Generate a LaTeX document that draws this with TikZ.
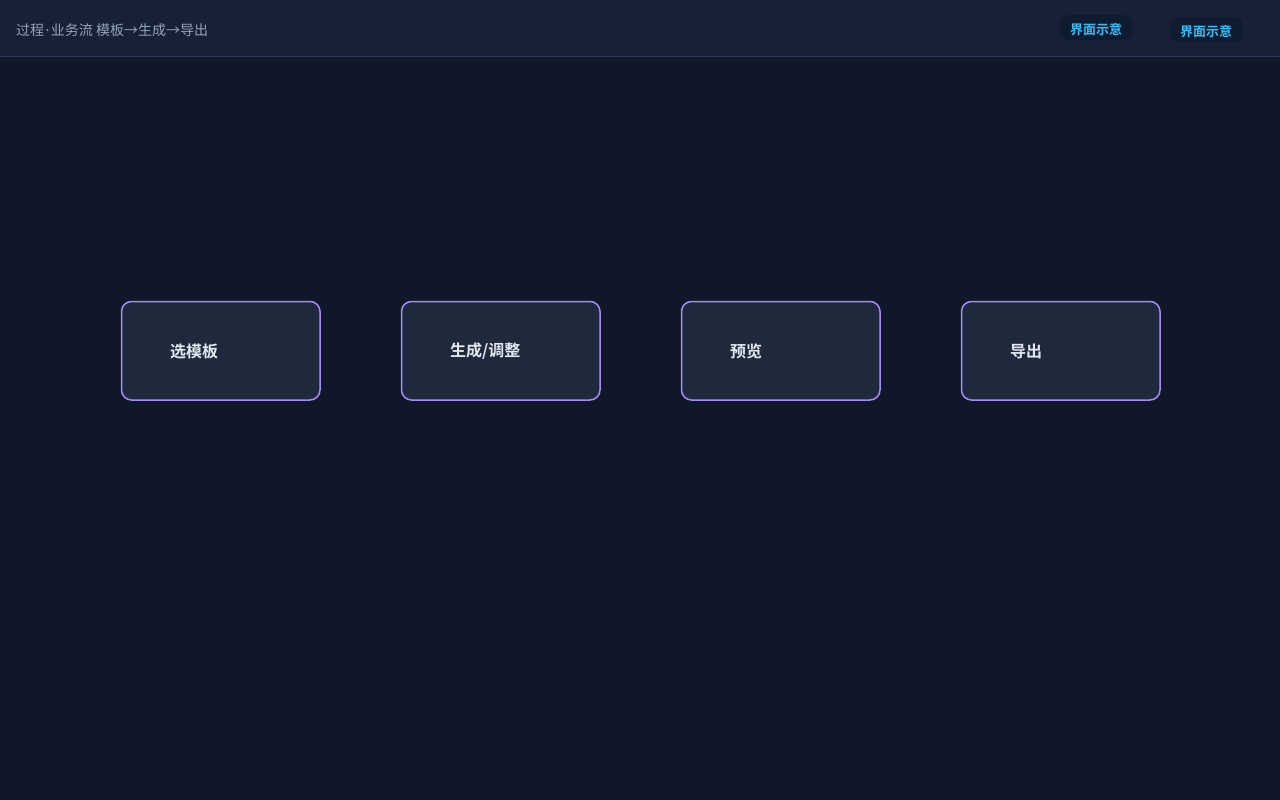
\documentclass[tikz,border=0pt]{standalone}
\usepackage{fontspec}
\setmainfont{Noto Sans CJK SC}
\newfontfamily\cjkb{Noto Sans CJK SC Bold}
\newfontfamily\latinf{Noto Sans}
\definecolor{bg}{HTML}{0F1729}
\definecolor{hdr}{HTML}{172036}
\definecolor{hdrline}{HTML}{2B3A55}
\definecolor{boxfill}{HTML}{1E293B}
\definecolor{boxline}{HTML}{A78BFA}
\definecolor{boxtext}{HTML}{E2E8F0}
\definecolor{titletext}{HTML}{94A3B8}
\definecolor{badgefill}{HTML}{0F1B2E}
\definecolor{badgetext}{HTML}{38BDF8}
\tikzset{
  stepbox/.style={draw=boxline, fill=boxfill, line width=1.5pt, rounded corners=10pt,
    minimum width=198.5pt, minimum height=98.5pt, inner sep=0pt, anchor=north west},
  steplabel/.style={anchor=west, text=boxtext, font=\cjkb\fontsize{16}{19}\selectfont, inner sep=0pt},
  badge/.style={fill=badgefill, rounded corners=8pt, minimum width=72pt, minimum height=25pt,
    inner sep=0pt, anchor=north west},
  badgetxt/.style={inner sep=0pt, text=badgetext, font=\cjkb\fontsize{13}{15}\selectfont},
}
\begin{document}
\begin{tikzpicture}[x=1pt,y=-1pt]
\useasboundingbox (0,0) rectangle (1280,800);
\fill[bg] (0,0) rectangle (1280,800);
\fill[hdr] (0,0) rectangle (1280,56);
\draw[hdrline, line width=1pt] (0,56.5) -- (1280,56.5);
\node[anchor=west, inner sep=0pt, text=titletext, font=\fontsize{14}{17}\selectfont] (title) at (16,30) {过程\hspace{1.5pt}{\latinf·}\hspace{1.5pt}业务流 模板→生成→导出};
\node[badge] (b1) at (1060,15) {};
\node[badgetxt] (t1) at ([yshift=-1.5pt]b1.center) {界面示意};
\node[badge] (b2) at (1170,17) {};
\node[badgetxt] (t2) at ([yshift=-1.5pt]b2.center) {界面示意};
\node[stepbox] (s1) at (120.75,300.75) {};
\node[stepbox] (s2) at (400.75,300.75) {};
\node[stepbox] (s3) at (680.75,300.75) {};
\node[stepbox] (s4) at (960.75,300.75) {};
\node[steplabel] (l1) at (170,351) {选模板};
\node[steplabel] (l2) at (450,351) {生成/调整};
\node[steplabel] (l3) at (730,351) {预览};
\node[steplabel] (l4) at (1010,351) {导出};
\end{tikzpicture}
\end{document}
